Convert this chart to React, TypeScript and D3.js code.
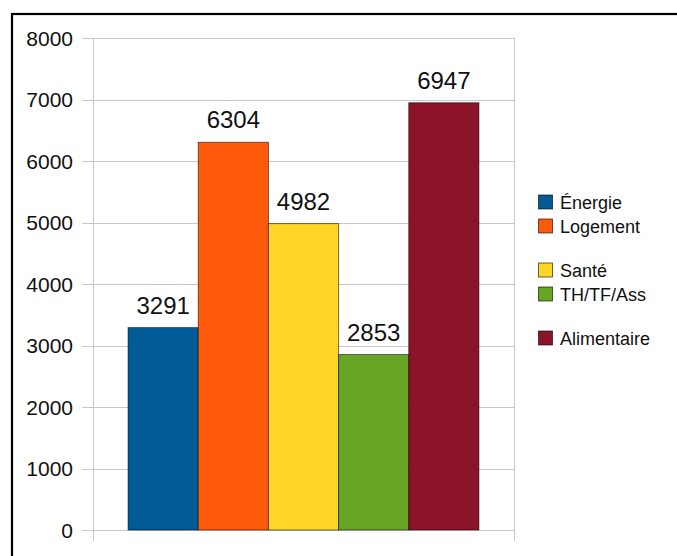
import React from "react";
import * as d3 from "d3";

const categories = ["Énergie", "Logement", "Santé", "TH/TF/Ass", "Alimentaire"];
const values = [3291, 6304, 4982, 2853, 6947];
const colors = ["#005b96", "#ff590c", "#ffd626", "#67a624", "#8c1429"];
const yTicks = [0, 1000, 2000, 3000, 4000, 5000, 6000, 7000, 8000];
const legendY = [202, 226, 270, 294, 338];

export default function App() {
  const W = 677, H = 556;
  const left = 93, right = 514, top = 38, bottom = 530;
  const y = d3.scaleLinear().domain([0, 8000]).range([bottom, top]);
  const slot = (right - left) / 6;
  const x = d3.scaleBand().domain(categories).range([left + slot / 2, right - slot / 2]).padding(0);
  const font = "'Liberation Sans', Arial, sans-serif";
  return (
    <svg width={W} height={H} style={{ position: "absolute", left: 0, top: 0, background: "#fff" }} fontFamily={font}>
      <rect x={12} y={14} width={700} height={600} fill="#fff" stroke="#000" strokeWidth={2.2} />
      {yTicks.map((t) => (
        <g key={t}>
          <line x1={82} x2={right} y1={Math.round(y(t)) + 0.5} y2={Math.round(y(t)) + 0.5} stroke="#c8c8c8" strokeWidth={1} />
          <text x={73} y={y(t) + 7.5} textAnchor="end" fontSize={21} fill="#111">{t}</text>
        </g>
      ))}
      <line x1={left + 0.5} x2={left + 0.5} y1={top} y2={541} stroke="#c8c8c8" />
      <line x1={right + 0.5} x2={right + 0.5} y1={top} y2={541} stroke="#c8c8c8" />
      {categories.map((c, i) => (
        <g key={c}>
          <rect x={x(c)!} y={y(values[i])} width={x.bandwidth()} height={bottom - y(values[i])} fill={colors[i]} stroke="#000" strokeOpacity={0.55} strokeWidth={1} />
          <text x={x(c)! + x.bandwidth() / 2} y={y(values[i]) - 14} textAnchor="middle" fontSize={24} fill="#111">{values[i]}</text>
        </g>
      ))}
      {categories.map((c, i) => (
        <g key={"l" + c}>
          <rect x={538.5} y={legendY[i] - 7} width={14} height={14} fill={colors[i]} stroke="#000" strokeOpacity={0.6} strokeWidth={1} />
          <text x={560} y={legendY[i] + 6.5} fontSize={18} fill="#111">{c}</text>
        </g>
      ))}
    </svg>
  );
}
